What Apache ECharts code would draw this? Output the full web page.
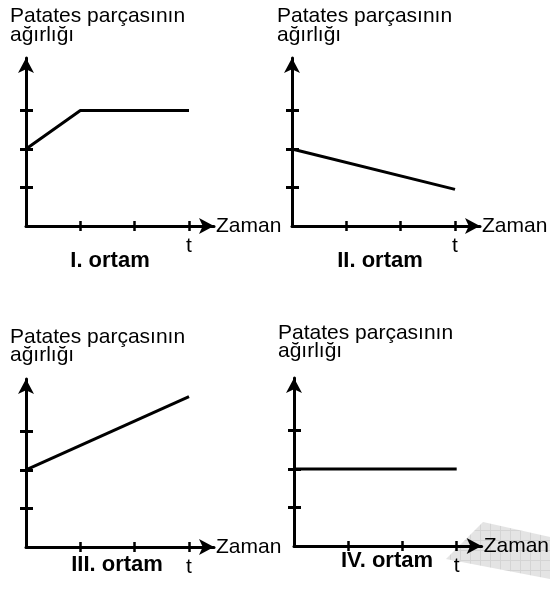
<!DOCTYPE html>
<html>
<head>
<meta charset="utf-8">
<script src="https://cdn.jsdelivr.net/npm/echarts@6/dist/echarts.min.js"></script>
<style>
html,body{margin:0;padding:0;background:#fff;}
#c{width:550px;height:597px;}
</style>
</head>
<body>
<div id="c"></div>
<script>
// ---- data ----
const yTitle = ['Patates parçasının', 'ağırlığı'];
const xName = 'Zaman';
const xTickValues = [1, 2, 3];
const yTickValues = [1, 2, 3];
const xEndLabel = 't';
const panelNames = ['I. ortam', 'II. ortam', 'III. ortam', 'IV. ortam'];
const seriesI = [[0, 2], [1, 3], [3, 3]];
const seriesII = [[0, 2], [3, 0.95]];
const seriesIII = [[0, 2], [3, 3.9]];
const seriesIV = [[0, 2], [3, 2]];
const allSeries = [seriesI, seriesII, seriesIII, seriesIV];

// ---- layout ----
const FONT = '"Liberation Sans", Arial, sans-serif';
const grids = [
  { left: 26, top: 58, width: 188, height: 168 },
  { left: 292, top: 58, width: 188, height: 168 },
  { left: 26, top: 379, width: 188, height: 168 },
  { left: 294, top: 378, width: 188, height: 168 }
];
const titlePos = [
  { x: 10, y1: 16.5, y2: 35.5 },
  { x: 277, y1: 16.5, y2: 35.5 },
  { x: 10, y1: 336.8, y2: 355.2 },
  { x: 278, y1: 333.5, y2: 351.5 }
];
const namePos = [
  { x: 110, y: 261 },
  { x: 380, y: 261 },
  { x: 117, y: 565 },
  { x: 387, y: 561 }
];
const XMAX = 3.46, YMAX = 4.36;

const xAxes = [], yAxes = [], series = [], graphics = [];
grids.forEach((g, i) => {
  xAxes.push({
    type: 'value', gridIndex: i, min: 0, max: XMAX, position: 'bottom',
    axisLine: { show: true, onZero: false, lineStyle: { color: '#000', width: 3 },
      symbol: ['none', 'arrow'], symbolSize: [12, 15] },
    axisTick: { show: true, inside: false, length: 5, customValues: xTickValues,
      lineStyle: { color: '#000', width: 2.5 } },
    axisLabel: { show: true, customValues: [3], formatter: () => xEndLabel,
      margin: 10, color: '#000', fontSize: 21, fontFamily: FONT },
    splitLine: { show: false },
    name: xName, nameLocation: 'end', nameGap: 2,
    nameTextStyle: { color: '#000', fontSize: 21, fontFamily: FONT, verticalAlign: 'middle', align: 'left' }
  });
  xAxes.push({
    type: 'value', gridIndex: i, min: 0, max: XMAX, position: 'bottom',
    axisLine: { show: false, onZero: false },
    axisTick: { show: true, inside: true, length: 5, customValues: xTickValues,
      lineStyle: { color: '#000', width: 2.5 } },
    axisLabel: { show: false }, splitLine: { show: false }
  });
  yAxes.push({
    type: 'value', gridIndex: i, min: 0, max: YMAX, position: 'left',
    axisLine: { show: true, onZero: false, lineStyle: { color: '#000', width: 3 },
      symbol: ['none', 'arrow'], symbolSize: [12, 15] },
    axisTick: { show: true, inside: false, length: 6, customValues: yTickValues,
      lineStyle: { color: '#000', width: 3 } },
    axisLabel: { show: false }, splitLine: { show: false }
  });
  yAxes.push({
    type: 'value', gridIndex: i, min: 0, max: YMAX, position: 'left',
    axisLine: { show: false, onZero: false },
    axisTick: { show: true, inside: true, length: 7, customValues: yTickValues,
      lineStyle: { color: '#000', width: 3 } },
    axisLabel: { show: false }, splitLine: { show: false }
  });
  series.push({
    type: 'line', xAxisIndex: 2 * i, yAxisIndex: 2 * i, data: allSeries[i],
    symbol: 'none', clip: false, z: 5,
    lineStyle: { color: '#000', width: 3, cap: 'butt' }
  });
  const tp = titlePos[i];
  graphics.push({ type: 'text', x: tp.x, y: tp.y1, style: { text: yTitle[0], fill: '#000',
    font: '21px ' + FONT, verticalAlign: 'middle', align: 'left' } });
  graphics.push({ type: 'text', x: tp.x, y: tp.y2, style: { text: yTitle[1], fill: '#000',
    font: '21px ' + FONT, verticalAlign: 'middle', align: 'left' } });
  const np = namePos[i];
  graphics.push({ type: 'text', x: np.x, y: np.y, style: { text: panelNames[i], fill: '#000',
    font: 'bold 22px ' + FONT, verticalAlign: 'middle', align: 'center' } });
});

// light graph-paper scrap in the lower right corner
const pc = document.createElement('canvas');
pc.width = 10; pc.height = 10;
const ctx = pc.getContext('2d');
ctx.fillStyle = '#e4e4e4'; ctx.fillRect(0, 0, 10, 10);
ctx.fillStyle = '#d4d4d4'; ctx.fillRect(0, 0, 10, 1); ctx.fillRect(0, 0, 1, 10);
graphics.unshift({
  type: 'polygon', z: -10,
  shape: { points: [[483, 522], [550, 537], [550, 579], [446, 559]] },
  style: { fill: { image: pc, repeat: 'repeat' } }
});

const chart = echarts.init(document.getElementById('c'), null, { renderer: 'canvas' });
chart.setOption({
  backgroundColor: '#fff',
  animation: false,
  grid: grids.map(g => Object.assign({ containLabel: false }, g)),
  xAxis: xAxes,
  yAxis: yAxes,
  series: series,
  graphic: { elements: graphics }
});
</script>
</body>
</html>
